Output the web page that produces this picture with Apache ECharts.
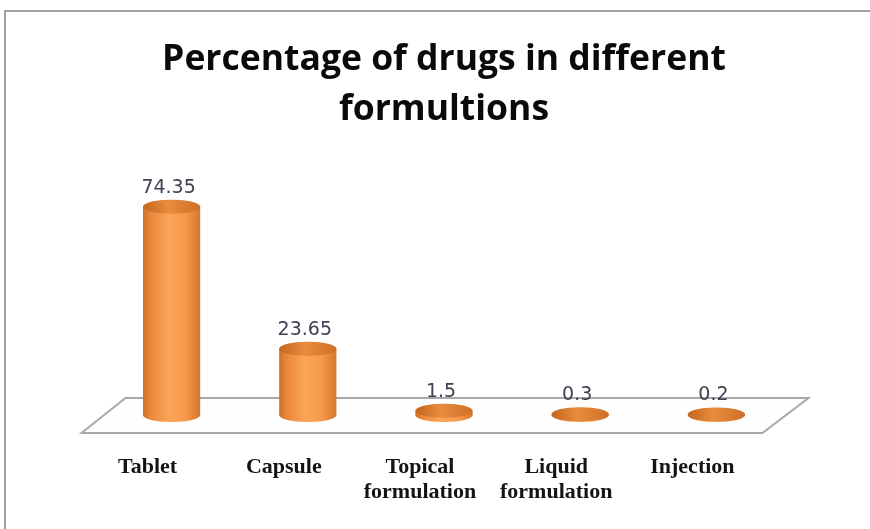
<!DOCTYPE html>
<html><head><meta charset="utf-8">
<script src="https://cdn.jsdelivr.net/npm/echarts@6/dist/echarts.min.js"></script>
<style>html,body{margin:0;padding:0;background:#fff}#chart{width:870px;height:529px}</style>
</head><body><div id="chart"></div>
<script>
const categories = ['Tablet', 'Capsule', 'Topical\nformulation', 'Liquid\nformulation', 'Injection'];
const values = [74.35, 23.65, 1.5, 0.3, 0.2];
const titleText = 'Percentage of drugs in different\nformultions';

const chart = echarts.init(document.getElementById('chart'));
const RY = 7;

function bodyGradient() {
  return new echarts.graphic.LinearGradient(0, 0, 1, 0, [
    { offset: 0, color: '#cf6f25' },
    { offset: 0.12, color: '#e8873a' },
    { offset: 0.45, color: '#fba558' },
    { offset: 0.75, color: '#f6994a' },
    { offset: 1, color: '#d4772c' }
  ]);
}
function topGradient() {
  return new echarts.graphic.LinearGradient(0, 0, 1, 0, [
    { offset: 0, color: '#c4671f' },
    { offset: 0.45, color: '#e88c3e' },
    { offset: 1, color: '#cd6f27' }
  ]);
}

function renderCylinder(params, api) {
  const idx = api.value(0);
  const v = api.value(1);
  const top = api.coord([idx, v]);
  const base = api.coord([idx, 0]);
  const bandW = api.size([1, 0])[0];
  const rx = bandW * 0.21;
  const cx = top[0];
  return {
    type: 'group',
    children: [
      { type: 'ellipse', shape: { cx: cx, cy: base[1], rx: rx, ry: RY }, style: { fill: bodyGradient() } },
      { type: 'rect', shape: { x: cx - rx, y: top[1], width: 2 * rx, height: base[1] - top[1] }, style: { fill: bodyGradient() } },
      { type: 'ellipse', shape: { cx: cx, cy: top[1], rx: rx, ry: RY }, style: { fill: topGradient() } },
      { type: 'text', style: { text: String(v), x: cx - 3, y: top[1] - RY - 12, align: 'center', verticalAlign: 'middle',
          fontFamily: 'DejaVu Sans', fontSize: 19, fill: '#3c4250' } }
    ]
  };
}

function renderFloor(params, api) {
  const cs = params.coordSys;
  const by = cs.y + cs.height;
  const l = cs.x, r = cs.x + cs.width;
  return {
    type: 'polygon',
    shape: { points: [[l - 22, by + 18], [l + 22, by - 17], [r + 24, by - 17], [r - 22, by + 18]] },
    style: { fill: '#fefefe', stroke: '#a8a8a8', lineWidth: 2 }
  };
}

chart.setOption({
  animation: false,
  backgroundColor: '#ffffff',
  graphic: [{
    type: 'rect', shape: { x: 5, y: 11, width: 900, height: 560 },
    style: { fill: 'none', stroke: '#a0a0a0', lineWidth: 2 }, silent: true, z: -10
  }],
  title: {
    text: titleText, left: 444, top: 35, textAlign: 'center', padding: 0,
    textStyle: { fontFamily: 'Open Sans', fontWeight: 'bold', fontSize: 35.5, lineHeight: 50, color: '#0a0a0a' }
  },
  grid: { left: 103.5, right: 85.5, top: 135, bottom: 114 },
  xAxis: {
    type: 'category', data: categories,
    axisLine: { show: false }, axisTick: { show: false }, splitLine: { show: false },
    axisLabel: { interval: 0, margin: 40, padding: [0, 48, 0, 0], fontFamily: 'Liberation Serif', fontWeight: 'bold',
      fontSize: 22, lineHeight: 25, color: '#141414' }
  },
  yAxis: { type: 'value', min: 0, max: 100, show: false },
  series: [
    { type: 'custom', data: [[0, 0]], renderItem: renderFloor, silent: true, clip: false, z: 1 },
    { type: 'custom', data: values.map((v, i) => [i, v]), renderItem: renderCylinder, silent: true, clip: false, z: 2 }
  ]
});
</script></body></html>
